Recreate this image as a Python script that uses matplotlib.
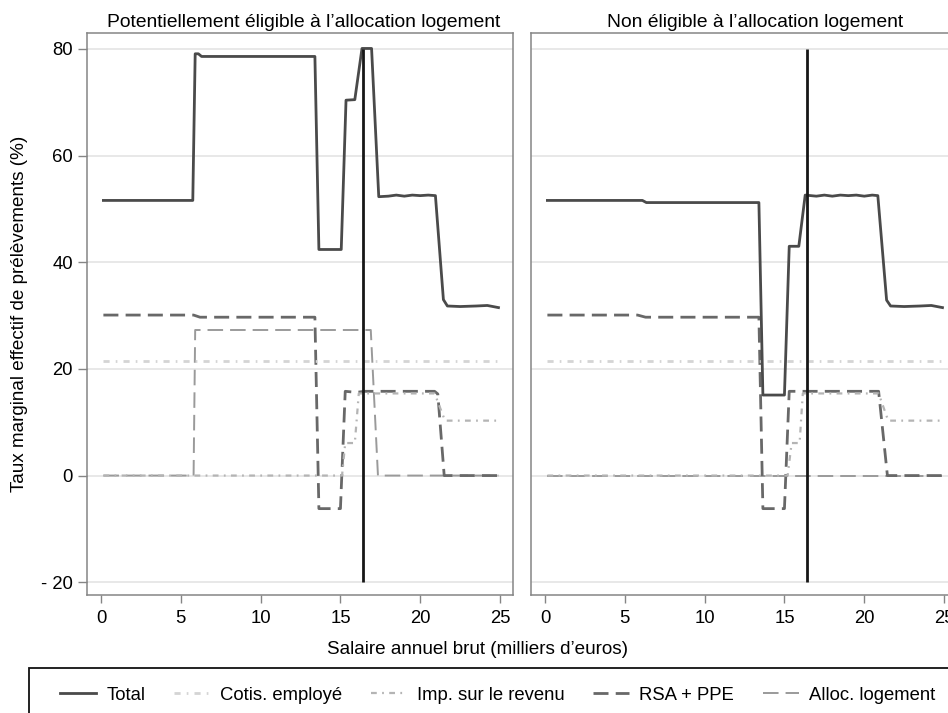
import matplotlib
matplotlib.use("Agg")
import matplotlib.pyplot as plt
from matplotlib.lines import Line2D
from matplotlib.patches import Rectangle

plt.rcParams['font.family'] = ['Liberation Sans', 'DejaVu Sans']

# ---------------- data ----------------
panel_titles = ["Potentiellement éligible à l\u2019allocation logement",
                "Non éligible à l\u2019allocation logement"]
series_names = ["Total", "Cotis. employé", "Imp. sur le revenu", "RSA + PPE", "Alloc. logement"]
x_ticks = [0, 5, 10, 15, 20, 25]
y_ticks = [-20, 0, 20, 40, 60, 80]
y_ticklabels = ["- 20", "0", "20", "40", "60", "80"]
threshold_x = 16.4

# Left panel: potentially eligible
tot_L_x = [0.15, 5.75, 5.9, 6.1, 6.3, 13.4, 13.65, 15.05, 15.35, 15.9, 16.35, 16.95, 17.4,
           18.0, 18.5, 19.0, 19.5, 20.0, 20.5, 20.95, 21.45, 21.7, 22.5, 23.5, 24.2, 24.9]
tot_L_y = [51.6, 51.6, 79.1, 79.1, 78.6, 78.6, 42.4, 42.4, 70.4, 70.5, 80.1, 80.1, 52.3,
           52.4, 52.6, 52.4, 52.6, 52.5, 52.6, 52.5, 33.0, 31.8, 31.7, 31.8, 31.9, 31.5]
cot_L_x = [0.15, 24.9]
cot_L_y = [21.5, 21.5]
imp_L_x = [0.15, 15.1, 15.3, 15.9, 16.15, 20.9, 21.55, 24.9]
imp_L_y = [0.0, 0.0, 6.1, 6.1, 15.4, 15.4, 10.3, 10.3]
rsa_L_x = [0.15, 5.8, 6.2, 13.4, 13.65, 15.0, 15.3, 16.0, 16.5, 20.9, 21.1, 21.5, 24.9]
rsa_L_y = [30.1, 30.1, 29.7, 29.7, -6.2, -6.2, 15.8, 15.6, 15.8, 15.8, 15.3, 0.0, 0.0]
all_L_x = [0.15, 5.8, 5.9, 16.9, 17.35, 24.9]
all_L_y = [0.0, 0.0, 27.3, 27.3, 0.0, 0.0]

# Right panel: not eligible
tot_R_x = [0.15, 6.1, 6.35, 13.4, 13.65, 15.0, 15.3, 15.9, 16.3, 17.0, 17.5, 18.0, 18.5,
           19.0, 19.5, 20.0, 20.5, 20.85, 21.4, 21.65, 22.5, 23.5, 24.2, 24.9]
tot_R_y = [51.6, 51.6, 51.2, 51.2, 15.1, 15.1, 43.0, 43.0, 52.6, 52.4, 52.6, 52.4, 52.6,
           52.5, 52.6, 52.4, 52.6, 52.5, 32.9, 31.8, 31.7, 31.8, 31.9, 31.5]
cot_R_x = [0.15, 24.9]
cot_R_y = [21.5, 21.5]
imp_R_x = [0.15, 15.2, 15.45, 15.95, 16.15, 20.9, 21.5, 24.9]
imp_R_y = [0.0, 0.0, 6.1, 6.1, 15.4, 15.4, 10.3, 10.3]
rsa_R_x = [0.15, 5.8, 6.3, 13.4, 13.65, 15.0, 15.3, 20.9, 21.45, 24.9]
rsa_R_y = [30.1, 30.1, 29.7, 29.7, -6.2, -6.2, 15.8, 15.8, 0.0, 0.0]
all_R_x = [0.15, 24.9]
all_R_y = [0.0, 0.0]

# ---------------- styles ----------------
styles = {
    "Total": dict(color="#4a4a4a", lw=2.0, ls="-"),
    "Cotis. employé": dict(color="#d4d4d4", lw=2.0, dashes=(2.2, 2.2, 0.6, 2.2)),
    "Imp. sur le revenu": dict(color="#b4b4b4", lw=1.6, dashes=(2.6, 2.4, 0.8, 2.4)),
    "RSA + PPE": dict(color="#686868", lw=2.0, dashes=(5.4, 2.6)),
    "Alloc. logement": dict(color="#9a9a9a", lw=1.4, dashes=(8.0, 3.6)),
}

W, H = 948, 713
fig = plt.figure(figsize=(W / 100, H / 100), dpi=100)

def fx(px):
    return px / W

def fy(py):
    return 1 - py / H

ax_w_px = 426
ax_top_px, ax_bot_px = 33, 595
axL = fig.add_axes([fx(87), fy(ax_bot_px), ax_w_px / W, (ax_bot_px - ax_top_px) / H])
axR = fig.add_axes([fx(531), fy(ax_bot_px), ax_w_px / W, (ax_bot_px - ax_top_px) / H])

panels = [
    (axL, [(tot_L_x, tot_L_y), (cot_L_x, cot_L_y), (imp_L_x, imp_L_y), (rsa_L_x, rsa_L_y), (all_L_x, all_L_y)]),
    (axR, [(tot_R_x, tot_R_y), (cot_R_x, cot_R_y), (imp_R_x, imp_R_y), (rsa_R_x, rsa_R_y), (all_R_x, all_R_y)]),
]
title_x = [0.508, 0.526]

draw_order = [4, 3, 2, 1, 0]
for i, (ax, data) in enumerate(panels):
    ax.set_xlim(-0.877, 25.81)
    ax.set_ylim(-22.4, 83.0)
    for yt in y_ticks:
        ax.axhline(yt, color="#e2e2e2", lw=1.1, zorder=0)
    for k in draw_order:
        name = series_names[k]
        xs, ys = data[k]
        ax.plot(xs, ys, label=name, zorder=2 + (5 - k) * 0.1 if k else 3, **styles[name])
    ax.vlines(threshold_x, -20, 80, color="#161616", lw=2.0, zorder=4)
    for sp in ax.spines.values():
        sp.set_color("#858585")
        sp.set_linewidth(1.1)
    ax.set_xticks(x_ticks)
    ax.set_xticklabels([str(t) for t in x_ticks], fontsize=13.3)
    ax.tick_params(axis="x", length=6, width=1.0, color="#858585", pad=4.5)
    ax.set_yticks(y_ticks)
    if i == 0:
        ax.set_yticklabels(y_ticklabels, fontsize=13.3)
        ax.tick_params(axis="y", length=6.5, width=1.0, color="#858585", pad=3.5)
    else:
        ax.tick_params(axis="y", left=False, labelleft=False)
    ax.set_title(panel_titles[i], fontsize=13.9, pad=4, x=title_x[i])

fig.text(fx(478), fy(650), "Salaire annuel brut (milliers d\u2019euros)", ha="center", va="center", fontsize=13.6)
fig.text(fx(20), fy(314), "Taux marginal effectif de prélèvements (%)", ha="center", va="center",
         rotation=90, fontsize=13.6)

# legend
handles = [Line2D([0], [0], **styles[n]) for n in series_names]
fig.legend(handles, series_names, loc="center left", bbox_to_anchor=(fx(60), fy(695)),
           ncol=5, frameon=False, fontsize=13.3, handlelength=1.95, handletextpad=0.55,
           columnspacing=1.55, borderaxespad=0, borderpad=0)
fig.patches.append(Rectangle((fx(29), fy(730)), fx(960 - 29), (730 - 668) / H, transform=fig.transFigure,
                             fill=False, edgecolor="#111111", lw=1.3, clip_on=False))

fig.savefig("out.png", dpi=100)
